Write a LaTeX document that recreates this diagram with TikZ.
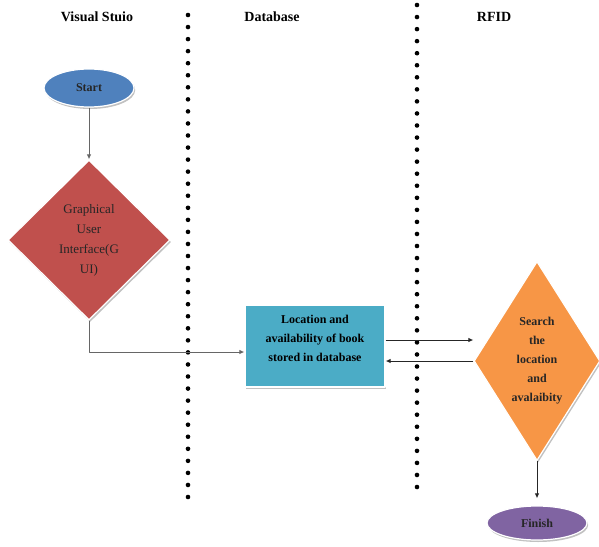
\documentclass[tikz,border=0pt]{standalone}
\usepackage{fontspec}
\setmainfont{Liberation Serif}
\usetikzlibrary{shapes.geometric,arrows.meta,shadows}
\definecolor{startblue}{HTML}{4F81BD}
\definecolor{guired}{HTML}{C0504D}
\definecolor{boxcyan}{HTML}{4BACC6}
\definecolor{searchorange}{HTML}{F79646}
\definecolor{finishpurple}{HTML}{8064A2}
\begin{document}
\begin{tikzpicture}[x=1pt, y=-1pt, line join=round, >={Latex[length=5pt,width=4.5pt]},
		head/.style={font=\fontsize{14}{16}\selectfont\bfseries},
		lane/.style={line width=4.6pt, line cap=round, dash pattern=on 0pt off 12.05pt},
		rim/.style={draw=white, line width=1.2pt, drop shadow={shadow xshift=1.2pt, shadow yshift=-2pt, fill=black!35, opacity=0.7}},
		flow/.style={->, line width=1pt},
		boldtext/.style={align=center, font=\fontsize{12}{19}\selectfont\bfseries}]
			\useasboundingbox (0,0) rectangle (599,546);
			
			\node[head] (vs) at (97,17) {Visual Stuio};
			\node[head] (db) at (272,17) {Database};
			\node[head] (rf) at (494,17) {RFID};
			
			\draw[lane] (188,15) -- (188,497);
			\draw[lane] (417,5) -- (417,498);
			
			\node[ellipse, rim, fill=startblue, minimum width=90, minimum height=38, font=\fontsize{12}{14}\selectfont\bfseries, text=black!85] (start) at (89,88) {Start};
			\node[diamond, rim, fill=guired, minimum width=162, minimum height=160, inner sep=0pt,
				label={[align=center, font=\fontsize{13}{20}\selectfont, text=black!85]center:{Graphical\\User\\Interface(G\\UI)}}] (gui) at (89,240) {};
			\node[rectangle, rim, fill=boxcyan, minimum width=140, minimum height=82, inner sep=0pt,
				label={[boldtext, yshift=8pt]center:{Location and\\availability of book\\stored in database}}] (info) at (315,346) {};
			\node[diamond, rim, fill=searchorange, minimum width=126, minimum height=199, inner sep=0pt,
				label={[boldtext, text=black!85]center:{Search\\the\\location\\and\\avalaibity}}] (search) at (537,361) {};
			\node[ellipse, rim, fill=finishpurple, minimum width=100, minimum height=34, font=\fontsize{12}{14}\selectfont\bfseries, text=black!85] (finish) at (537,523) {Finish};
			
			\draw[flow, black!60] (start) -- (gui);
			\draw[flow, black!60] (gui.south) |- ([yshift=-6pt]info.west);
			\draw[flow, black!85] ([yshift=6pt]info.east) -- ([yshift=6pt]info.east -| search.west);
			\draw[flow, black!85] (search.west) -- (search.west -| info.east);
			\draw[flow, black!85, shorten >=7pt] (search) -- (finish);
		\end{tikzpicture}
\end{document}
